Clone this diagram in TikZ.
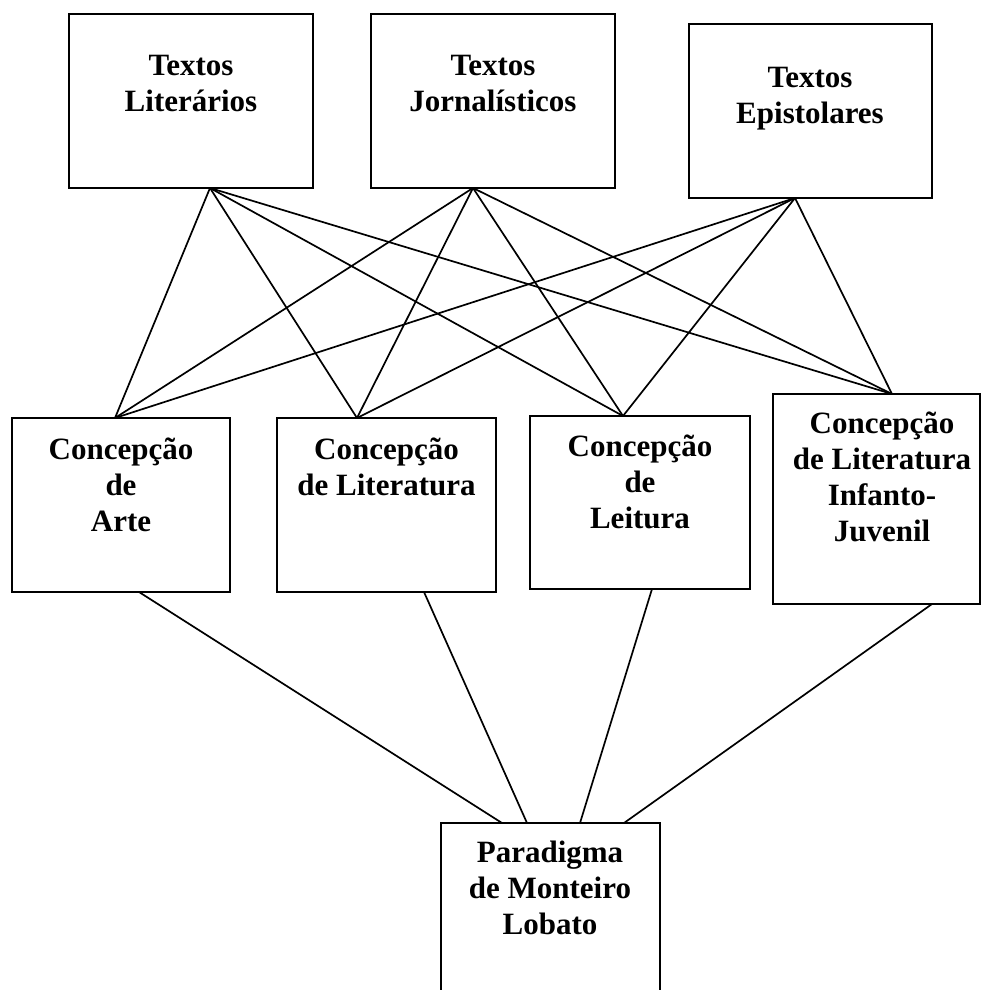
\documentclass[tikz,border=0pt]{standalone}
\usepackage{fontspec}
\setmainfont{Liberation Serif}
\begin{document}
\begin{tikzpicture}[x=1pt,y=-1pt,
  box/.style={draw,line width=2pt,rectangle,inner sep=0pt},
  lbl/.style={align=center,anchor=north,inner sep=0pt,font=\fontsize{31}{36}\selectfont\bfseries},
  link/.style={line width=1.7pt}]
\useasboundingbox (0,0) rectangle (982,990);
\clip (0,0) rectangle (982,990);
% top boxes
\node[box,minimum width=244pt,minimum height=174pt] (tl) at (191,101) {};
\node[box,minimum width=244pt,minimum height=174pt] (tj) at (493,101) {};
\node[box,minimum width=243pt,minimum height=174pt] (te) at (810.5,111) {};
% middle boxes
\node[box,minimum width=218pt,minimum height=174pt] (ar) at (121,505) {};
\node[box,minimum width=219pt,minimum height=174pt] (li) at (386.5,505) {};
\node[box,minimum width=220pt,minimum height=173pt] (le) at (640,502.5) {};
\node[box,minimum width=207pt,minimum height=210pt] (ij) at (876.5,499) {};
% bottom box
\node[box,minimum width=219pt,minimum height=177pt] (pm) at (550.5,911.5) {};
% labels
\node[lbl] (tlt) at (191,49.8) {\strut Textos\\Literários};
\node[lbl] (tjt) at (493,49.8) {\strut Textos\\Jornalísticos};
\node[lbl] (tet) at (810,61.8) {\strut Textos\\Epistolares};
\node[lbl] (art) at (121,433.8) {\strut Concepção\\de\\Arte};
\node[lbl] (lit) at (386.5,433.8) {\strut Concepção\\de Literatura};
\node[lbl] (let) at (640,430.8) {\strut Concepção\\de\\Leitura};
\node[lbl] (ijt) at (882,407.8) {\strut Concepção\\de Literatura\\Infanto-\\Juvenil};
\node[lbl] (pmt) at (550,836.8) {\strut Paradigma\\de Monteiro\\Lobato};
% connection points
\coordinate (tla) at (210,188);
\coordinate (tja) at (473,188);
\coordinate (tea) at (795,198);
\coordinate (ara) at (115,418);
\coordinate (lia) at (357,418);
\coordinate (lea) at (623,416);
\coordinate (ija) at (892,394);
\coordinate (arb) at (139,592);
\coordinate (lib) at (424,592);
\coordinate (leb) at (652,589);
\coordinate (ijb) at (932,604);
\coordinate (p1) at (502,823);
\coordinate (p2) at (527,823);
\coordinate (p3) at (580,823);
\coordinate (p4) at (624,823);
% top-to-middle links
\foreach \t in {tla,tja,tea}{
  \foreach \m in {ara,lia,lea,ija}{
    \draw[link] (\t) -- (\m);
  }
}
% middle-to-bottom links
\draw[link] (arb) -- (p1);
\draw[link] (lib) -- (p2);
\draw[link] (leb) -- (p3);
\draw[link] (ijb) -- (p4);
\end{tikzpicture}
\end{document}
